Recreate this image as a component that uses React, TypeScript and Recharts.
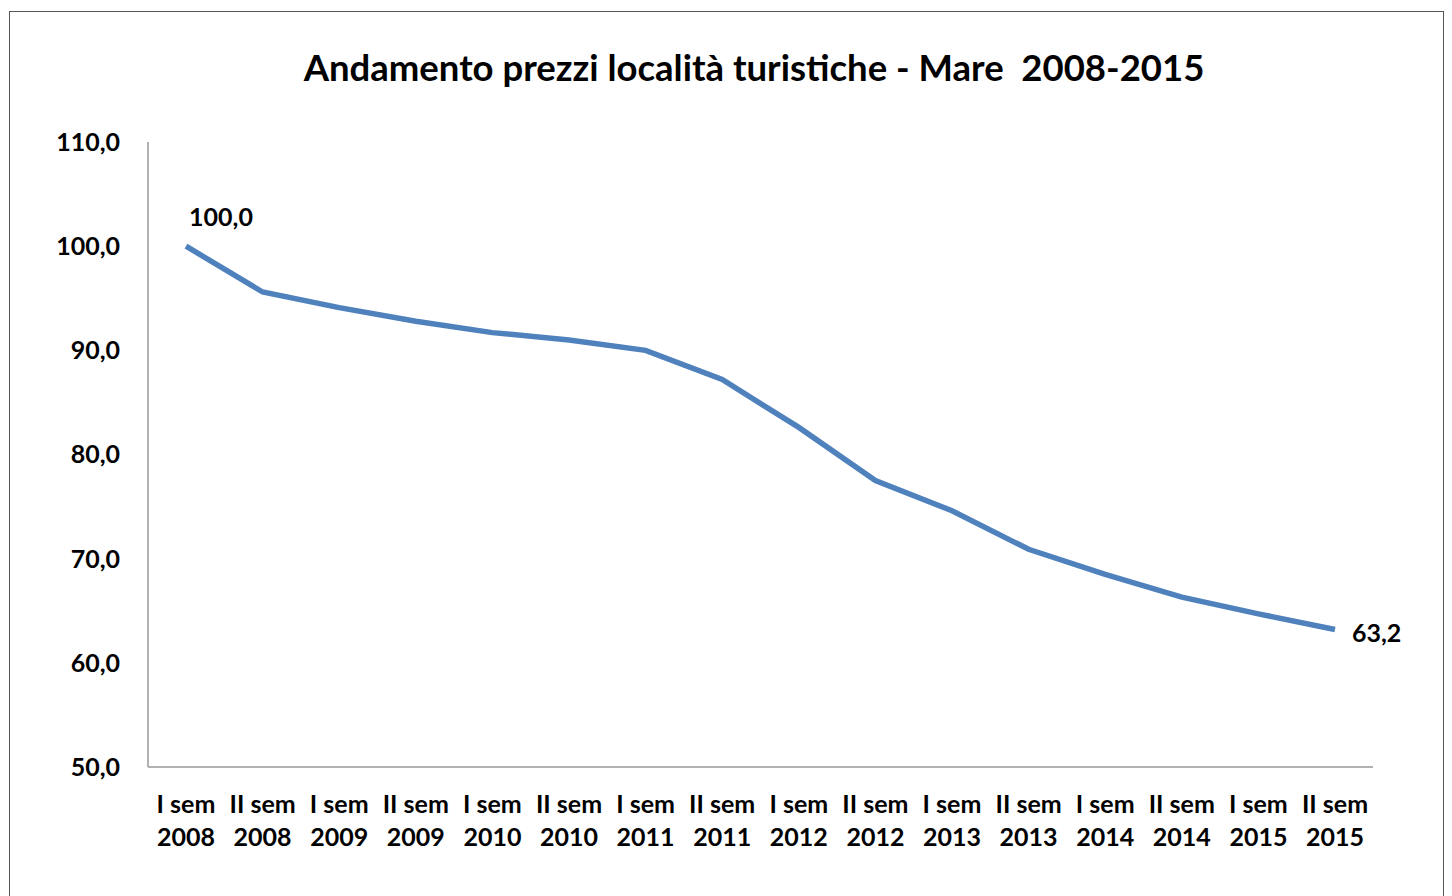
import React from 'react';
import { LineChart, Line, XAxis, YAxis, LabelList } from 'recharts';

const semesters = ['I sem', 'II sem', 'I sem', 'II sem', 'I sem', 'II sem', 'I sem', 'II sem', 'I sem', 'II sem', 'I sem', 'II sem', 'I sem', 'II sem', 'I sem', 'II sem'];
const years = ['2008', '2008', '2009', '2009', '2010', '2010', '2011', '2011', '2012', '2012', '2013', '2013', '2014', '2014', '2015', '2015'];
const prices = [100.0, 95.6, 94.1, 92.8, 91.7, 91.0, 90.0, 87.2, 82.6, 77.5, 74.6, 70.9, 68.5, 66.3, 64.7, 63.2];
const yTicks = [50, 60, 70, 80, 90, 100, 110];
const labelledIndices = [0, 15];

const data = prices.map((v, i) => ({ key: `${semesters[i]}|${years[i]}`, value: v }));

const FONT = 'Lato, "Open Sans", sans-serif';
const fmt = (v: number) => v.toFixed(1).replace('.', ',');

const XTick = (props: any) => {
  const { x, y, payload } = props;
  const [s, yr] = String(payload.value).split('|');
  return (
    <g>
      <text x={x} y={y + 38} textAnchor="middle" fontFamily={FONT} fontWeight={700} fontSize={25} fill="#000">{s}</text>
      <text x={x} y={y + 71} textAnchor="middle" fontFamily={FONT} fontWeight={700} fontSize={25} fill="#000">{yr}</text>
    </g>
  );
};

const PointLabel = (props: any) => {
  const { x, y, index, value } = props;
  if (!labelledIndices.includes(index)) return null;
  if (index === 0) {
    return <text x={x + 35} y={y - 20} textAnchor="middle" fontFamily={FONT} fontWeight={700} fontSize={25} fill="#000">{fmt(value)}</text>;
  }
  return <text x={x + 17} y={y + 12} textAnchor="start" fontFamily={FONT} fontWeight={700} fontSize={25} fill="#000">{fmt(value)}</text>;
};

export default function App() {
  return (
    <div style={{ position: 'absolute', left: 0, top: 0, width: 1452, height: 896, background: '#fff', overflow: 'hidden' }}>
      <div style={{ position: 'absolute', left: 9, top: 11, width: 1435, height: 900, border: '1.5px solid #555', boxSizing: 'border-box' }} />
      <div style={{ position: 'absolute', left: 0, top: 45, width: 1508, textAlign: 'center', fontFamily: FONT, fontWeight: 700, fontSize: 36.5, color: '#000' }}>
        Andamento prezzi località turistiche - Mare&nbsp;&nbsp;2008-2015
      </div>
      <div style={{ position: 'absolute', left: 0, top: 0 }}>
        <LineChart width={1452} height={896} data={data} margin={{ top: 142, right: 79, bottom: 49, left: 48 }}>
          <XAxis
            dataKey="key"
            tick={<XTick />}
            tickLine={false}
            axisLine={{ stroke: '#999', strokeWidth: 1.5 }}
            height={80}
            interval={0}
            padding={{ left: 38, right: 38 }}
          />
          <YAxis
            domain={[50, 110]}
            ticks={yTicks}
            tickFormatter={fmt}
            tickLine={false}
            tickSize={0}
            tickMargin={28}
            axisLine={{ stroke: '#999', strokeWidth: 1.5 }}
            width={100}
            tick={{ fontFamily: FONT, fontWeight: 700, fontSize: 25, fill: '#000' }}
          />
          <Line
            type="linear"
            dataKey="value"
            stroke="#4F81BD"
            strokeWidth={5.5}
            dot={false}
            isAnimationActive={false}
          >
            <LabelList dataKey="value" content={<PointLabel />} />
          </Line>
        </LineChart>
      </div>
    </div>
  );
}
